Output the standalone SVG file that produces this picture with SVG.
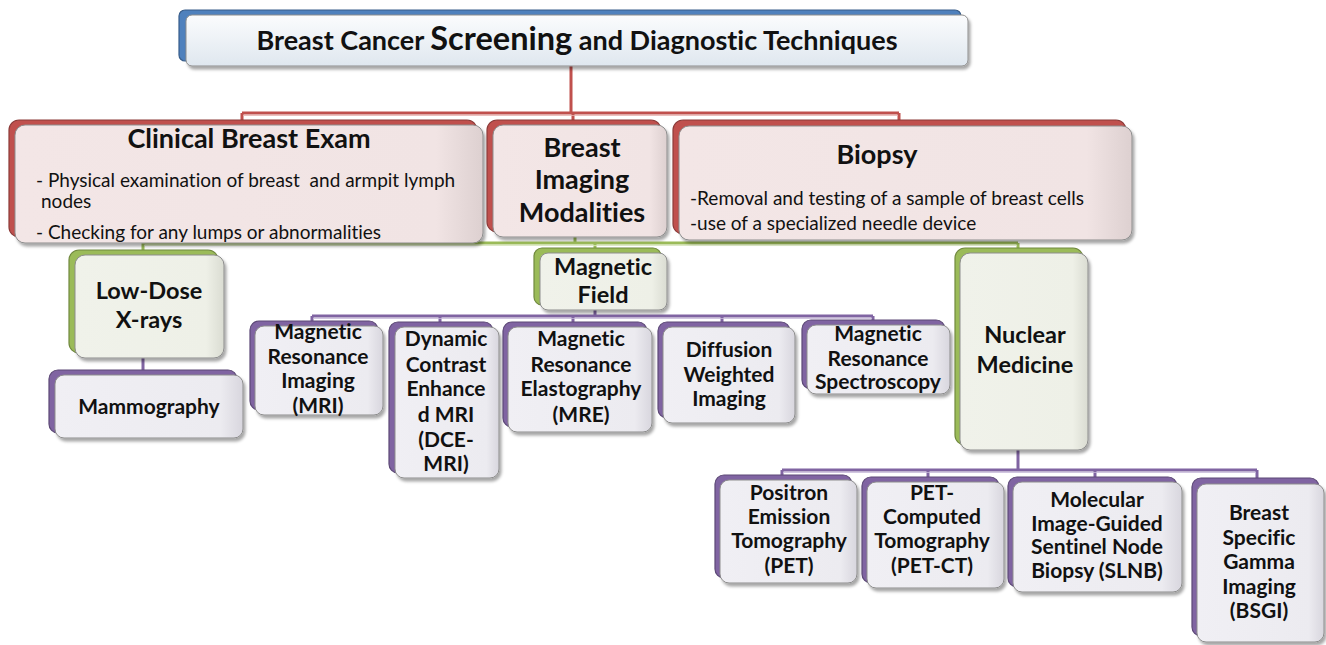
<svg xmlns="http://www.w3.org/2000/svg" width="1326" height="645" viewBox="0 0 1326 645">
<defs>
<filter id="sh" x="-10%" y="-10%" width="130%" height="140%">
<feDropShadow dx="2" dy="3" stdDeviation="1.8" flood-color="#000" flood-opacity="0.35"/>
</filter>
<linearGradient id="gBlue" x1="0" y1="0" x2="0" y2="1"><stop offset="0" stop-color="#fbfcfd"/><stop offset="1" stop-color="#dfe7ef"/></linearGradient>
<linearGradient id="gRed" x1="0" y1="0" x2="1" y2="0"><stop offset="0" stop-color="#f3e6e6"/><stop offset="0.9" stop-color="#f1e4e4"/><stop offset="1" stop-color="#ddd0d0"/></linearGradient>
<linearGradient id="gGreen" x1="0" y1="0" x2="1" y2="0"><stop offset="0" stop-color="#f0f2ea"/><stop offset="0.88" stop-color="#eef0e7"/><stop offset="1" stop-color="#dadcd2"/></linearGradient>
<linearGradient id="gPurple" x1="0" y1="0" x2="1" y2="0"><stop offset="0" stop-color="#f0eff4"/><stop offset="0.88" stop-color="#ecebf0"/><stop offset="1" stop-color="#d8d6de"/></linearGradient>
<style>
.bk{stroke-width:1.2}
.blue{fill:#4f81bd;stroke:#385d8a}
.red{fill:#c0504d;stroke:#8c3b39}
.green{fill:#9bbb59;stroke:#71893f}
.purple{fill:#8064a2;stroke:#5c4876}
.fr{stroke:#8d8d8d;stroke-width:1;filter:url(#sh)}
.fb{fill:url(#gBlue)}
.frd{fill:url(#gRed)}
.fg{fill:url(#gGreen)}
.fp{fill:url(#gPurple)}
text{font-family:Lato,"Liberation Sans",sans-serif;fill:#111;font-variant-ligatures:none}
.h0{font-size:27px;font-weight:bold}
.h1{font-size:27px;font-weight:bold}
.h2{font-size:23.5px;font-weight:bold}
.h3{font-size:21px;font-weight:bold}
.body{font-size:19px}
.c{text-anchor:middle}
.lr{fill:none;stroke:#c0504d;stroke-width:3}
.lg{fill:none;stroke:#9bbb59;stroke-width:3}
.lp{fill:none;stroke:#8064a2;stroke-width:3}
.ll{fill:none;stroke-width:1.2;opacity:0.8}
</style>
</defs>

<g id="connectors">
<path class="lr" d="M571,66 V113 M242,113 H899 M242,113 V121 M573,113 V121 M899,113 V121"/>
<path class="ll" stroke="#e6b0ae" d="M243,115.5 H898"/>
<path class="lg" d="M575,237 V243 M143,243 H1018 M143,243 V251 M595,243 V249 M1018,243 V249"/>
<path class="ll" stroke="#d5e4b8" d="M144,245.5 H1017"/>
<path class="lp" d="M143,358 V371 M595,310 V316 M312,316 H873 M312,316 V322 M440,316 V323 M573,316 V323 M722,316 V323 M873,316 V321"/>
<path class="ll" stroke="#c6b8d8" d="M313,318.5 H872"/>
<path class="lp" d="M1018,450 V470 M782,470 H1257 M782,470 V476 M928,470 V477 M1095,470 V477 M1257,470 V479"/>
<path class="ll" stroke="#c6b8d8" d="M783,472.5 H1256"/>
</g>

<g id="title">
<rect class="bk blue" x="179" y="10" width="782" height="51" rx="6"/>
<rect class="fr fb" x="186" y="15" width="782" height="51" rx="6"/>
<text class="h0 c" x="577" y="50">Breast Cancer <tspan font-size="32.5px">Screening</tspan> and Diagnostic Techniques</text>
</g>

<g id="clinical">
<rect class="bk red" x="9" y="120" width="468" height="117" rx="10"/>
<rect class="fr frd" x="15" y="125" width="468" height="118" rx="10"/>
<text class="h1 c" x="249" y="148">Clinical Breast Exam</text>
<text class="body" x="36" y="187" xml:space="preserve">- Physical examination of breast  and armpit lymph</text>
<text class="body" x="41" y="208">nodes</text>
<text class="body" x="36" y="239">- Checking for any lumps or abnormalities</text>
</g>

<g id="imaging">
<rect class="bk red" x="487" y="120" width="174" height="112" rx="10"/>
<rect class="fr frd" x="493" y="125" width="174" height="112" rx="10"/>
<text class="h1 c" x="582" y="157">Breast</text>
<text class="h1 c" x="582" y="189">Imaging</text>
<text class="h1 c" x="582" y="222">Modalities</text>
</g>

<g id="biopsy">
<rect class="bk red" x="673" y="120" width="453" height="114" rx="10"/>
<rect class="fr frd" x="679" y="126" width="453" height="114" rx="10"/>
<text class="h1 c" x="877" y="164">Biopsy</text>
<text class="body" x="690" y="205">-Removal and testing of a sample of breast cells</text>
<text class="body" x="690" y="230">-use of a specialized needle device</text>
</g>

<g id="lowdose">
<rect class="bk green" x="69" y="250" width="149" height="103" rx="10"/>
<rect class="fr fg" x="75" y="255" width="149" height="103" rx="10"/>
<text class="h2 c" x="149" y="299">Low-Dose</text>
<text class="h2 c" x="149" y="328">X-rays</text>
</g>

<g id="mammography">
<rect class="bk purple" x="49" y="370" width="188" height="63" rx="9"/>
<rect class="fr fp" x="55" y="375" width="188" height="63" rx="9"/>
<text class="h3 c" x="149" y="414">Mammography</text>
</g>

<g id="magfield">
<rect class="bk green" x="534" y="248" width="127" height="57" rx="8"/>
<rect class="fr fg" x="540" y="253" width="127" height="57" rx="8"/>
<text class="h2 c" x="603" y="275">Magnetic</text>
<text class="h2 c" x="603" y="303">Field</text>
</g>

<g id="mri">
<rect class="bk purple" x="250" y="321" width="128" height="89" rx="9"/>
<rect class="fr fp" x="255" y="326" width="128" height="89" rx="9"/>
<text class="h3 c" x="318" y="339">Magnetic</text>
<text class="h3 c" x="318" y="364">Resonance</text>
<text class="h3 c" x="318" y="388">Imaging</text>
<text class="h3 c" x="318" y="413">(MRI)</text>
</g>

<g id="dce">
<rect class="bk purple" x="389" y="322" width="104" height="151" rx="9"/>
<rect class="fr fp" x="395" y="327" width="104" height="151" rx="9"/>
<text class="h3 c" x="446" y="346">Dynamic</text>
<text class="h3 c" x="446" y="372">Contrast</text>
<text class="h3 c" x="446" y="396">Enhance</text>
<text class="h3 c" x="446" y="422">d MRI</text>
<text class="h3 c" x="446" y="447">(DCE-</text>
<text class="h3 c" x="446" y="471">MRI)</text>
</g>

<g id="mre">
<rect class="bk purple" x="503" y="322" width="144" height="105" rx="9"/>
<rect class="fr fp" x="508" y="327" width="144" height="105" rx="9"/>
<text class="h3 c" x="581" y="346">Magnetic</text>
<text class="h3 c" x="581" y="372">Resonance</text>
<text class="h3 c" x="581" y="396">Elastography</text>
<text class="h3 c" x="581" y="422">(MRE)</text>
</g>

<g id="dwi">
<rect class="bk purple" x="658" y="322" width="132" height="96" rx="9"/>
<rect class="fr fp" x="663" y="327" width="132" height="96" rx="9"/>
<text class="h3 c" x="729" y="357">Diffusion</text>
<text class="h3 c" x="729" y="382">Weighted</text>
<text class="h3 c" x="729" y="406">Imaging</text>
</g>

<g id="mrs">
<rect class="bk purple" x="802" y="320" width="143" height="69" rx="9"/>
<rect class="fr fp" x="807" y="325" width="143" height="69" rx="9"/>
<text class="h3 c" x="878" y="341">Magnetic</text>
<text class="h3 c" x="878" y="366">Resonance</text>
<text class="h3 c" x="878" y="389">Spectroscopy</text>
</g>

<g id="nuclear">
<rect class="bk green" x="955" y="248" width="128" height="197" rx="10"/>
<rect class="fr fg" x="960" y="253" width="128" height="197" rx="10"/>
<text class="h2 c" x="1025" y="343">Nuclear</text>
<text class="h2 c" x="1025" y="373">Medicine</text>
</g>

<g id="pet">
<rect class="bk purple" x="715" y="475" width="137" height="103" rx="9"/>
<rect class="fr fp" x="720" y="480" width="137" height="103" rx="9"/>
<text class="h3 c" x="789" y="500">Positron</text>
<text class="h3 c" x="789" y="524">Emission</text>
<text class="h3 c" x="789" y="548">Tomography</text>
<text class="h3 c" x="789" y="573">(PET)</text>
</g>

<g id="petct">
<rect class="bk purple" x="862" y="477" width="137" height="106" rx="9"/>
<rect class="fr fp" x="867" y="482" width="137" height="106" rx="9"/>
<text class="h3 c" x="932" y="500">PET-</text>
<text class="h3 c" x="932" y="524">Computed</text>
<text class="h3 c" x="932" y="548">Tomography</text>
<text class="h3 c" x="932" y="573">(PET-CT)</text>
</g>

<g id="slnb">
<rect class="bk purple" x="1008" y="477" width="169" height="110" rx="9"/>
<rect class="fr fp" x="1013" y="482" width="169" height="110" rx="9"/>
<text class="h3 c" x="1097" y="507">Molecular</text>
<text class="h3 c" x="1097" y="531">Image-Guided</text>
<text class="h3 c" x="1097" y="554">Sentinel Node</text>
<text class="h3 c" x="1097" y="578">Biopsy (SLNB)</text>
</g>

<g id="bsgi">
<rect class="bk purple" x="1192" y="478" width="127" height="158" rx="9"/>
<rect class="fr fp" x="1197" y="484" width="127" height="158" rx="9"/>
<text class="h3 c" x="1259" y="520">Breast</text>
<text class="h3 c" x="1259" y="545">Specific</text>
<text class="h3 c" x="1259" y="569">Gamma</text>
<text class="h3 c" x="1259" y="594">Imaging</text>
<text class="h3 c" x="1259" y="618">(BSGI)</text>
</g>
</svg>
